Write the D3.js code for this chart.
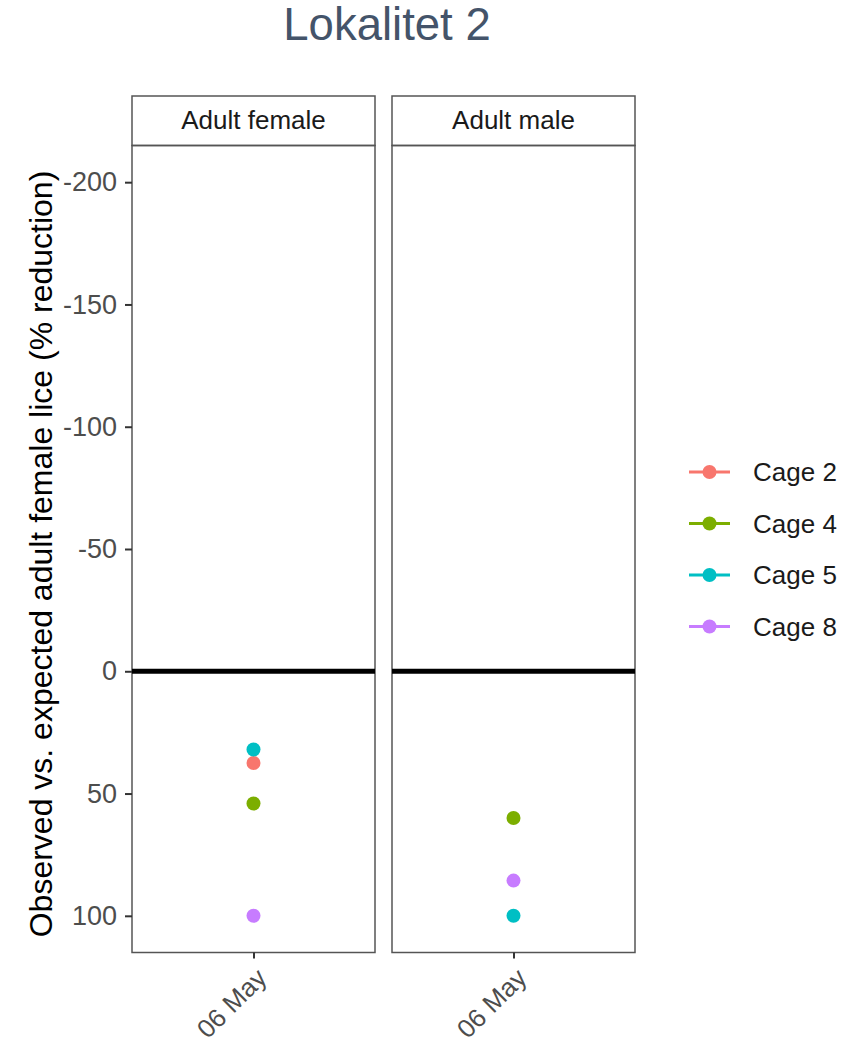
<!DOCTYPE html>
<html>
<head>
<meta charset="utf-8">
<script src="https://cdn.jsdelivr.net/npm/d3@7"></script>
<style>
  body { margin: 0; background: #fff; }
  svg { display: block; font-family: "Liberation Sans", Arial, sans-serif; }
</style>
</head>
<body>
<svg id="chart"></svg>
<script>
// --- data ---
const panels = ["Adult female", "Adult male"];
const dates = ["06 May"];
const cages = ["Cage 2", "Cage 4", "Cage 5", "Cage 8"];
const cageColors = ["#F8766D", "#7CAE00", "#00BFC4", "#C77CFF"];
// % reduction per cage, order = cages
const femaleValues = [37.5, 54.1, 32.0, 100];
const maleValues = [null, 60, 100, 85.6];
const yTicks = [-200, -150, -100, -50, 0, 50, 100];

const width = 866, height = 1043;
const svg = d3.select("#chart").attr("width", width).attr("height", height);

const color = d3.scaleOrdinal().domain(cages).range(cageColors);

// facet positions
const panelX = d3.scaleBand().domain(panels).range([132, 635]).paddingInner(17 / 260);
const x = d3.scalePoint().domain(dates).range([0, panelX.bandwidth()]).padding(0.5);
const y = d3.scaleLinear().domain([-215, 115]).range([145.5, 952.5]);

const stripTop = 96;

const points = [];
panels.forEach((p, pi) => {
  const vals = pi === 0 ? femaleValues : maleValues;
  cages.forEach((c, ci) => {
    if (vals[ci] != null) points.push({ panel: p, date: dates[0], cage: c, value: vals[ci] });
  });
});

// title
svg.append("text")
  .attr("x", 387).attr("y", 40)
  .attr("text-anchor", "middle")
  .attr("font-size", 45.5)
  .attr("fill", "#44546A")
  .text("Lokalitet 2");

// panels
const panel = svg.selectAll("g.panel")
  .data(panels)
  .join("g")
  .attr("class", "panel")
  .attr("transform", d => `translate(${panelX(d)},0)`);

panel.append("rect")
  .attr("x", 0).attr("y", stripTop)
  .attr("width", panelX.bandwidth()).attr("height", y.range()[0] - stripTop)
  .attr("fill", "#fff").attr("stroke", "#555").attr("stroke-width", 1.5);

panel.append("text")
  .attr("x", panelX.bandwidth() / 2).attr("y", 129)
  .attr("text-anchor", "middle")
  .attr("font-size", 26)
  .attr("fill", "#1a1a1a")
  .text(d => d);

panel.append("rect")
  .attr("x", 0).attr("y", y.range()[0])
  .attr("width", panelX.bandwidth()).attr("height", y.range()[1] - y.range()[0])
  .attr("fill", "none").attr("stroke", "#555").attr("stroke-width", 1.5);

// zero reference line
panel.append("line")
  .attr("x1", 0).attr("x2", panelX.bandwidth())
  .attr("y1", y(0)).attr("y2", y(0))
  .attr("stroke", "#000").attr("stroke-width", 5);

// x axis per panel
panel.append("g")
  .attr("transform", `translate(0,${y.range()[1]})`)
  .call(d3.axisBottom(x).tickSize(6).tickPadding(4))
  .call(g => g.select(".domain").remove())
  .call(g => g.selectAll(".tick line").attr("stroke", "#333").attr("stroke-width", 2))
  .call(g => g.selectAll(".tick text")
    .attr("font-size", 26)
    .attr("fill", "#4d4d4d")
    .attr("text-anchor", "end")
    .attr("dy", null)
    .attr("transform", "translate(7,20) rotate(-45)"));

// points
panel.selectAll("circle")
  .data(p => points.filter(d => d.panel === p))
  .join("circle")
  .attr("cx", d => x(d.date))
  .attr("cy", d => y(d.value))
  .attr("r", 7)
  .attr("fill", d => color(d.cage));

// y axis
svg.append("g")
  .attr("transform", `translate(${panelX(panels[0])},0)`)
  .call(d3.axisLeft(y).tickValues(yTicks).tickSize(7).tickPadding(8).tickFormat(d => d3.format("d")(d).replace("−", "-")))
  .call(g => g.select(".domain").remove())
  .call(g => g.selectAll(".tick line").attr("stroke", "#333").attr("stroke-width", 2))
  .call(g => g.selectAll(".tick text").attr("font-size", 27).attr("fill", "#4d4d4d"));

svg.append("text")
  .attr("transform", `translate(52,554) rotate(-90)`)
  .attr("text-anchor", "middle")
  .attr("font-size", 32)
  .attr("fill", "#000")
  .text("Observed vs. expected adult female lice (% reduction)");

// legend
const legend = svg.append("g").attr("transform", "translate(689,472)");
const item = legend.selectAll("g")
  .data(cages)
  .join("g")
  .attr("transform", (d, i) => `translate(0,${i * 51.5})`);
item.append("line")
  .attr("x1", 0).attr("x2", 41)
  .attr("stroke", d => color(d)).attr("stroke-width", 3);
item.append("circle")
  .attr("cx", 20.5).attr("r", 7)
  .attr("fill", d => color(d));
item.append("text")
  .attr("x", 64).attr("dy", "0.35em")
  .attr("font-size", 26)
  .attr("fill", "#1a1a1a")
  .text(d => d);
</script>
</body>
</html>
